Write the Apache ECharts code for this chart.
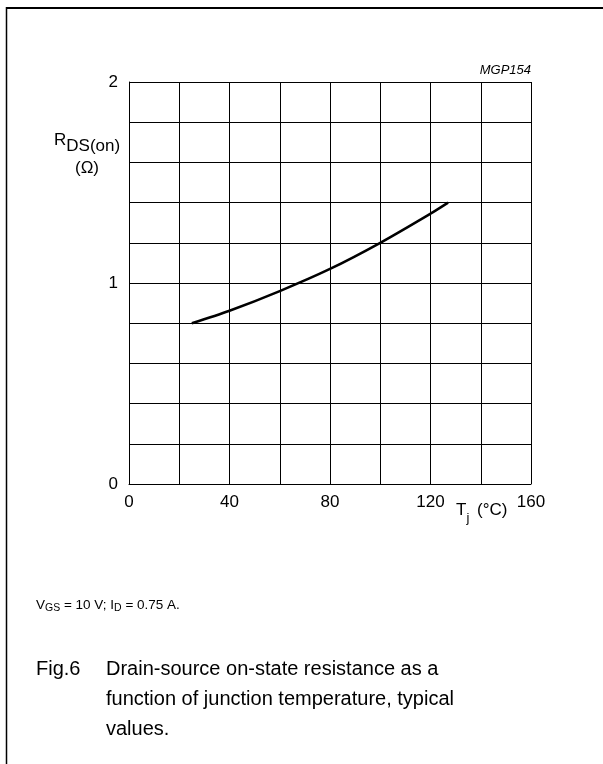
<!DOCTYPE html>
<html>
<head>
<meta charset="utf-8">
<script src="https://cdn.jsdelivr.net/npm/echarts@6/dist/echarts.min.js"></script>
<style>
html,body{margin:0;padding:0;background:#fff;}
#c{width:603px;height:764px;}
</style>
</head>
<body>
<div id="c"></div>
<script>
// Data
const tempC = [25, 40, 60, 80, 100, 120, 127];
const rdsOn = [0.80, 0.862, 0.960, 1.070, 1.200, 1.345, 1.40];
const xTickLabels = [0, 40, 80, 120, 160];
const yTickLabels = [0, 1, 2];

const FF = 'Arial, "Liberation Sans", sans-serif';
const chart = echarts.init(document.getElementById('c'), null, {renderer: 'canvas'});

const mc = document.createElement('canvas').getContext('2d');
function runText(runs, x0, y0) {
  let x = x0;
  const out = [];
  runs.forEach(r => {
    const font = (r.italic ? 'italic ' : '') + r.size + 'px ' + FF;
    mc.font = font;
    out.push({
      type: 'text', x: x, y: y0 + (r.dy || 0),
      style: {text: r.t, fill: '#000', font: font, textAlign: 'left', textVerticalAlign: 'middle', align: 'left', verticalAlign: 'middle'}
    });
    x += mc.measureText(r.t).width + (r.gap || 0);
  });
  return out;
}
function txt(t, x, y, size, align, italic) {
  const font = (italic ? 'italic ' : '') + size + 'px ' + FF;
  return {type: 'text', x: x, y: y,
    style: {text: t, fill: '#000', font: font, textAlign: align, textVerticalAlign: 'middle', align: align, verticalAlign: 'middle'}};
}

const graphics = [
  {type: 'line', shape: {x1: 6, y1: 8, x2: 603, y2: 8}, style: {stroke: '#000', lineWidth: 2}},
  {type: 'line', shape: {x1: 6.5, y1: 7, x2: 6.5, y2: 764}, style: {stroke: '#000', lineWidth: 1.5}},
  txt('MGP154', 531, 70, 13, 'right', true),
  ...runText([
    {t: 'R', size: 17},
    {t: 'DS(on)', size: 17, dy: 6}
  ], 54, 140.5),
  txt('(\u03A9)', 87, 168, 17, 'center'),
  ...runText([
    {t: 'T', size: 17},
    {t: 'j', size: 13, dy: 8, gap: 3},
    {t: ' (\u00B0C)', size: 17}
  ], 456, 510),
  ...runText([
    {t: 'V', size: 13.5},
    {t: 'GS', size: 10.5, dy: 3},
    {t: ' = 10 V; I', size: 13.5},
    {t: 'D', size: 10.5, dy: 3},
    {t: ' = 0.75 A.', size: 13.5}
  ], 36, 605),
  txt('Fig.6', 36, 669, 20, 'left'),
  txt('Drain-source on-state resistance as a', 106, 669, 20, 'left'),
  txt('function of junction temperature, typical', 106, 699, 20, 'left'),
  txt('values.', 106, 729, 20, 'left')
];

chart.setOption({
  backgroundColor: '#fff',
  animation: false,
  grid: {left: 129, top: 82, width: 402, height: 402},
  xAxis: {
    type: 'value', min: 0, max: 160, interval: 20,
    axisLine: {show: true, lineStyle: {color: '#000', width: 1}},
    axisTick: {show: false},
    splitLine: {show: true, lineStyle: {color: '#000', width: 1}},
    axisLabel: {
      color: '#000', fontSize: 17, fontFamily: FF, margin: 10,
      showMinLabel: true, showMaxLabel: true,
      formatter: v => xTickLabels.indexOf(v) >= 0 ? String(v) : ''
    }
  },
  yAxis: {
    type: 'value', min: 0, max: 2, interval: 0.2,
    axisLine: {show: true, lineStyle: {color: '#000', width: 1}},
    axisTick: {show: false},
    splitLine: {show: true, lineStyle: {color: '#000', width: 1}},
    axisLabel: {
      color: '#000', fontSize: 17, fontFamily: FF, margin: 11,
      showMinLabel: true, showMaxLabel: true,
      formatter: v => {
        const r = Math.round(v * 10) / 10;
        return yTickLabels.indexOf(r) >= 0 ? String(r) : '';
      }
    }
  },
  series: [{
    type: 'line',
    data: tempC.map((t, i) => [t, rdsOn[i]]),
    smooth: 0.3,
    symbol: 'none',
    lineStyle: {color: '#000', width: 2.5}
  }],
  graphic: graphics
});
</script>
</body>
</html>
